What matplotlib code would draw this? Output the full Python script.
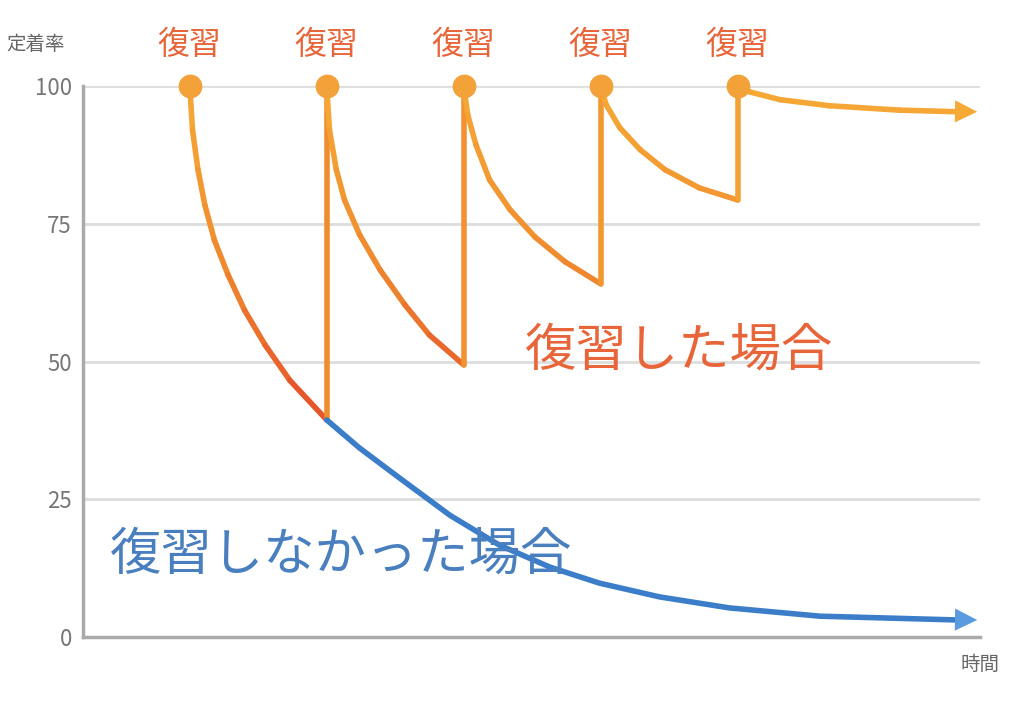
import numpy as np
import matplotlib.pyplot as plt
from matplotlib.collections import LineCollection
from matplotlib.colors import LinearSegmentedColormap

plt.rcParams['font.family'] = ['Noto Sans CJK JP', 'DejaVu Sans']

review_x = [1, 2, 3, 4, 5]
# review curves
seg_x = [
    [1, 1.02, 1.06, 1.11, 1.18, 1.28, 1.4, 1.55, 1.73, 2],
    [2, 2.02, 2.07, 2.13, 2.24, 2.39, 2.57, 2.75, 3],
    [3, 3.03, 3.09, 3.19, 3.34, 3.52, 3.74, 4],
    [4, 4.04, 4.14, 4.29, 4.47, 4.72, 5],
    [5, 5.09, 5.31, 5.67, 6.18, 6.62],
]
seg_y = [
    [100, 92, 84.8, 78.4, 72, 65.7, 59.3, 53, 46.6, 39.4],
    [100, 92, 84.8, 79.3, 73, 66.6, 60.3, 54.8, 49.4],
    [100, 94.7, 89.3, 82.9, 77.5, 72.6, 68.1, 64.1],
    [100, 96.6, 92.4, 88.4, 84.8, 81.5, 79.3],
    [100, 98.9, 97.5, 96.4, 95.6, 95.3],
]
# no review curve
blue_x = [2, 2.24, 2.53, 2.9, 3.26, 3.63, 3.99, 4.43, 4.94, 5.6, 6.62]
blue_y = [39.4, 34.3, 28.9, 22.1, 16.7, 12.7, 9.8, 7.3, 5.3, 3.8, 3.1]
yticks = [0, 25, 50, 75, 100]

cmap = LinearSegmentedColormap.from_list('ora', ['#e2452a', '#ef8a2e', '#f6aa35'])

fig = plt.figure(figsize=(10.24, 7.04), dpi=100)
ax = fig.add_axes([0.081, 0.095, 0.876, 0.783])
ax.set_xlim(0.22, 6.77)
ax.set_ylim(0, 100)

# orange line with vertical jumps
xs, ys = [], []
for sx, sy in zip(seg_x, seg_y):
    xs += sx
    ys += sy
xs = np.array(xs); ys = np.array(ys)
pts = np.column_stack([xs, ys]).reshape(-1, 1, 2)
segs = np.concatenate([pts[:-1], pts[1:]], axis=1)
lc = LineCollection(segs, cmap=cmap, norm=plt.Normalize(35, 100), linewidth=4,
                    capstyle='round', joinstyle='round', zorder=3)
lc.set_array((ys[:-1] + ys[1:]) / 2)
ax.add_collection(lc)

ax.plot(blue_x, blue_y, color='#3b7dc9', lw=4, solid_capstyle='round',
        solid_joinstyle='round', zorder=3)
ax.annotate('', xy=(6.77, blue_y[-1]), xytext=(6.3, blue_y[-1] + 0.2),
            arrowprops=dict(arrowstyle='-|>', mutation_scale=40, color='#5a9be0', lw=0),
            annotation_clip=False, zorder=4)
ax.annotate('', xy=(6.77, seg_y[-1][-1]), xytext=(6.3, seg_y[-1][-1] + 0.2),
            arrowprops=dict(arrowstyle='-|>', mutation_scale=40, color='#f6aa35', lw=0),
            annotation_clip=False, zorder=4)

ax.scatter(review_x, [100] * 5, s=260, color='#f3a23a', zorder=5, clip_on=False)
for x in review_x:
    ax.text(x, 107.5, '復習', ha='center', va='center', fontsize=23,
            color='#e8653a', clip_on=False)

ax.text(3.45, 52, '復習した場合', fontsize=37, color='#e8653a', va='center')
ax.text(0.42, 14.9, '復習しなかった場合', fontsize=37, color='#4a7fbf', va='center',
        zorder=6)

ax.set_yticks(yticks)
ax.set_xticks([])
ax.tick_params(axis='y', length=0, labelsize=16, labelcolor='#777777', pad=8)
ax.yaxis.grid(True, color='#dddddd', lw=2)
for s in ['top', 'right']:
    ax.spines[s].set_visible(False)
for s in ['left', 'bottom']:
    ax.spines[s].set_color('#aaaaaa')
    ax.spines[s].set_linewidth(2.5)
ax.text(-0.02, 107.5, '定着率', transform=ax.get_yaxis_transform(), ha='right',
        va='center', fontsize=14, color='#666666')
ax.text(6.77, -5, '時間', ha='center', va='center', fontsize=14, color='#666666')

fig.savefig('out.png', dpi=100)
